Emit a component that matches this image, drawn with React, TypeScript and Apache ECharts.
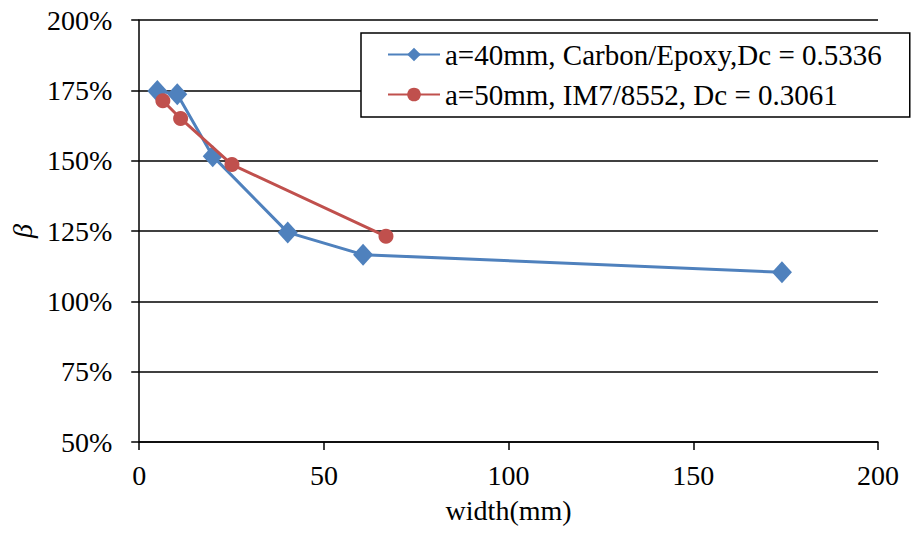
import React, { useEffect, useRef } from "react";
import * as echarts from "echarts";

const seriesNames = [
  "a=40mm, Carbon/Epoxy,Dc = 0.5336",
  "a=50mm, IM7/8552, Dc = 0.3061",
];
const blueWidth = [4.9, 10.3, 19.9, 40.2, 60.6, 174];
const blueBeta = [174.8, 173.6, 151.6, 124.5, 116.6, 110.3];
const redWidth = [6.4, 11.2, 25.1, 66.8];
const redBeta = [171.3, 165.0, 148.6, 123.1];
const xTicks = [0, 50, 100, 150, 200];
const yTicks = [50, 75, 100, 125, 150, 175, 200];

const FONT = "Liberation Serif";
const FS = 28;

export default function App() {
  const ref = useRef<HTMLDivElement>(null);
  useEffect(() => {
    document.body.style.margin = "0";
    const chart = echarts.init(ref.current!, null, { renderer: "svg" });
    chart.setOption({
      animation: false,
      backgroundColor: "#fff",
      textStyle: { fontFamily: FONT },
      grid: { left: 138, right: 41, top: 20, bottom: 93 },
      legend: {
        orient: "vertical",
        left: 361,
        top: 33,
        backgroundColor: "#fff",
        borderColor: "#000",
        borderWidth: 1.5,
        borderRadius: 0,
        padding: [7, 28, 8, 26],
        itemGap: 11,
        itemWidth: 52,
        itemHeight: 17,
        textStyle: { fontFamily: FONT, fontSize: 29, color: "#000" },
        data: seriesNames,
      },
      xAxis: {
        type: "value",
        min: xTicks[0],
        max: xTicks[xTicks.length - 1],
        interval: 50,
        name: "width(mm)",
        nameLocation: "middle",
        nameGap: 54,
        nameTextStyle: { fontFamily: FONT, fontSize: FS, color: "#000" },
        axisLine: { show: true, lineStyle: { color: "#000", width: 1.5 } },
        axisTick: { show: true, length: 8, lineStyle: { color: "#000", width: 1.5 } },
        axisLabel: { fontFamily: FONT, fontSize: FS, color: "#000", margin: 19 },
        splitLine: { show: false },
      },
      yAxis: {
        type: "value",
        min: yTicks[0],
        max: yTicks[yTicks.length - 1],
        interval: 25,
        name: "β",
        nameLocation: "middle",
        nameRotate: 90,
        nameGap: 90,
        nameTextStyle: { fontFamily: FONT, fontSize: FS, color: "#000", fontStyle: "italic" },
        axisLine: { show: true, onZero: false, lineStyle: { color: "#000", width: 1.5 } },
        axisTick: { show: true, length: 8, lineStyle: { color: "#000", width: 1.5 } },
        axisLabel: { fontFamily: FONT, fontSize: FS, color: "#000", margin: 27, formatter: "{value}%" },
        splitLine: { show: true, lineStyle: { color: "#000", width: 1.5 } },
      },
      series: [
        {
          name: seriesNames[0],
          type: "line",
          data: blueWidth.map((w, i) => [w, blueBeta[i]]),
          symbol: "diamond",
          symbolSize: [20, 22],
          lineStyle: { color: "#4F81BD", width: 3 },
          itemStyle: { color: "#4F81BD" },
          z: 2,
        },
        {
          name: seriesNames[1],
          type: "line",
          data: redWidth.map((w, i) => [w, redBeta[i]]),
          symbol: "circle",
          symbolSize: 15,
          lineStyle: { color: "#C0504D", width: 3 },
          itemStyle: { color: "#C0504D" },
          z: 3,
        },
      ],
    });
    return () => chart.dispose();
  }, []);
  return <div ref={ref} style={{ width: 919, height: 535 }} />;
}
